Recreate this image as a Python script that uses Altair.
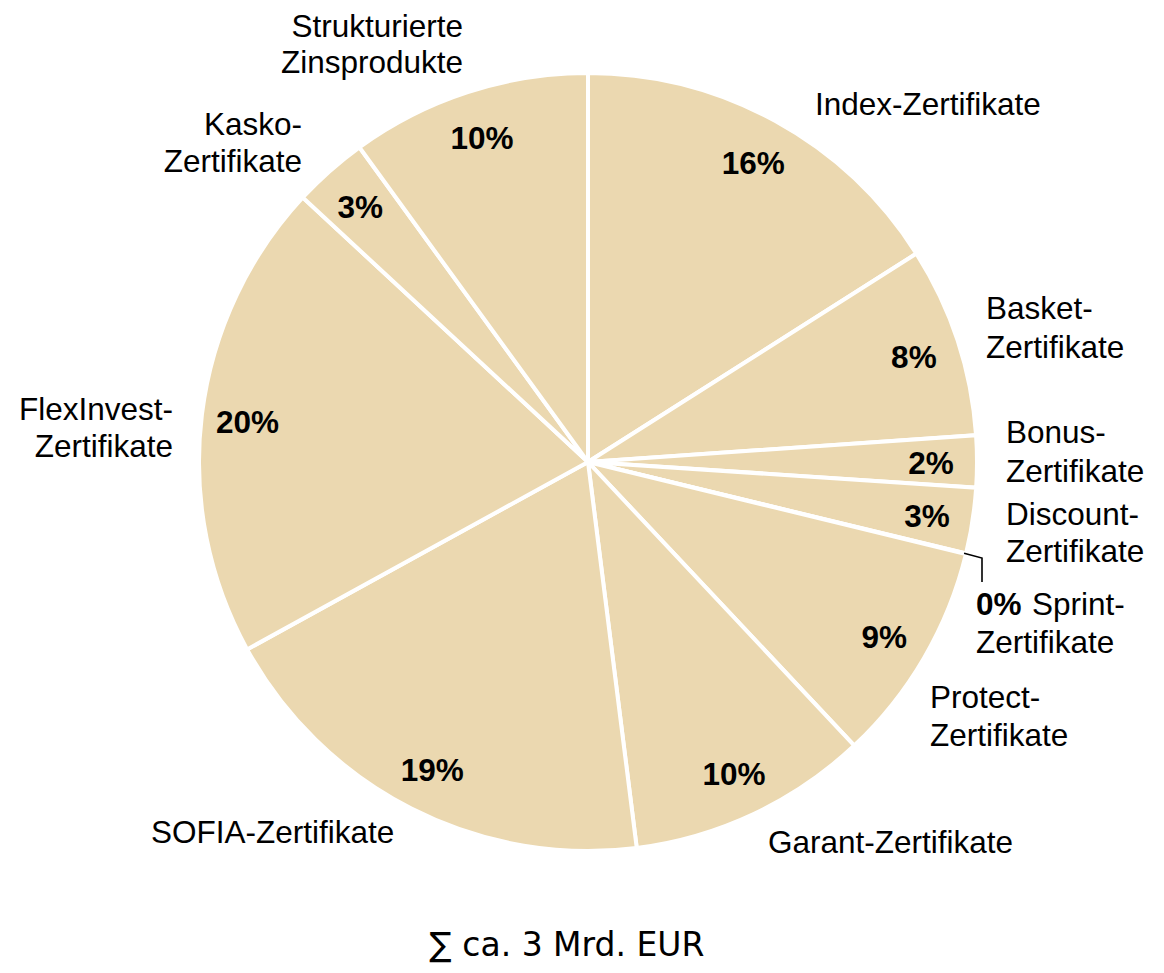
import math
import altair as alt
import pandas as pd

# ---------------- data ----------------
CATEGORIES = [
    "Index-Zertifikate", "Basket-Zertifikate", "Bonus-Zertifikate",
    "Discount-Zertifikate", "Sprint-Zertifikate", "Protect-Zertifikate",
    "Garant-Zertifikate", "SOFIA-Zertifikate", "FlexInvest-Zertifikate",
    "Kasko-Zertifikate", "Strukturierte Zinsprodukte",
]
SHARES = [16.0, 7.9, 2.15, 2.73, 0.02, 9.2, 10.0, 19.0, 19.9, 3.1, 10.0]
PCT_LABELS = ["16%", "8%", "2%", "3%", "0%", "9%", "10%", "19%", "20%", "3%", "10%"]
OUTSIDE_PCT = ["Sprint-Zertifikate"]  # percentage written outside the pie
TOTAL_TEXT = "\u2211 ca. 3 Mrd. EUR"

# ---------------- layout (pixels, chart coordinates) ----------------
W, H = 1148, 957
CX, CY = 580, 454
R = 387
STROKE = 4
PCT_RADIUS = 343
PCT_DY = 4
FONT = "Liberation Sans"
FS = 31.5
TOTAL_FONT = "DejaVu Sans"
TOTAL_FS = 33
FILL = "#EBD8B0"

# category label lines: (text, x, y-baseline, align)
LABEL_LINES = [
    ("Strukturierte", 455, 29, "right"),
    ("Zinsprodukte", 455, 65, "right"),
    ("Kasko-", 294, 127, "right"),
    ("Zertifikate", 294, 164, "right"),
    ("Index-Zertifikate", 807, 107, "left"),
    ("Basket-", 978, 311, "left"),
    ("Zertifikate", 978, 350, "left"),
    ("Bonus-", 998, 435, "left"),
    ("Zertifikate", 998, 474, "left"),
    ("Discount-", 998, 517, "left"),
    ("Zertifikate", 998, 554, "left"),
    ("Sprint-", 1024, 607, "left"),
    ("Zertifikate", 968, 645, "left"),
    ("Protect-", 922, 700, "left"),
    ("Zertifikate", 922, 738, "left"),
    ("Garant-Zertifikate", 760, 845, "left"),
    ("SOFIA-Zertifikate", 143, 835, "left"),
    ("FlexInvest-", 165, 412, "right"),
    ("Zertifikate", 165, 449, "right"),
]
OUTSIDE_PCT_POS = (968, 607)
LEADER_ELBOW = (974, 550)
LEADER_END = (974, 574)
TOTAL_POS = (559, 948)

# ---------------- tables ----------------
df = pd.DataFrame({
    "idx": list(range(len(CATEGORIES))),
    "category": CATEGORIES,
    "share": SHARES,
    "pct": PCT_LABELS,
})
df["pct_in"] = [("" if c in OUTSIDE_PCT else p) for c, p in zip(CATEGORIES, PCT_LABELS)]

# leader line start: pie edge at the middle angle of the Sprint slice
total = sum(SHARES)
i_s = CATEGORIES.index("Sprint-Zertifikate")
mid = (sum(SHARES[:i_s]) + SHARES[i_s] / 2) / total * 2 * math.pi
start = (CX + R * math.sin(mid), CY - R * math.cos(mid))
leader = pd.DataFrame({
    "o": [0, 1, 2],
    "x": [start[0], LEADER_ELBOW[0], LEADER_END[0]],
    "y": [start[1], LEADER_ELBOW[1], LEADER_END[1]],
})

labels = pd.DataFrame(LABEL_LINES, columns=["text", "x", "y", "align"])

# ---------------- chart ----------------
base = alt.Chart(df).encode(
    theta=alt.Theta("share:Q", stack=True),
    order=alt.Order("idx:Q"),
    x=alt.value(CX),
    y=alt.value(CY),
)

arcs = base.mark_arc(outerRadius=R + STROKE / 2, stroke="white",
                     strokeWidth=STROKE, fill=FILL)

pct_text = base.mark_text(radius=PCT_RADIUS, dy=PCT_DY, font=FONT, fontSize=FS,
                          fontWeight="bold", baseline="middle", align="center",
                          color="black").encode(text="pct_in:N")

def label_layer(align):
    return alt.Chart(labels[labels["align"] == align]).mark_text(
        font=FONT, fontSize=FS, align=align, baseline="alphabetic", color="black"
    ).encode(
        x=alt.X("x:Q", scale=None, axis=None),
        y=alt.Y("y:Q", scale=None, axis=None),
        text="text:N",
    )

out_pct = alt.Chart(df[df["category"].isin(OUTSIDE_PCT)]).mark_text(
    font=FONT, fontSize=FS, fontWeight="bold", align="left",
    baseline="alphabetic", color="black"
).encode(
    x=alt.value(OUTSIDE_PCT_POS[0]),
    y=alt.value(OUTSIDE_PCT_POS[1]),
    text="pct:N",
)

leader_line = alt.Chart(leader).mark_line(color="black", strokeWidth=1.6).encode(
    x=alt.X("x:Q", scale=None, axis=None),
    y=alt.Y("y:Q", scale=None, axis=None),
    order="o:Q",
)

total_text = alt.Chart(pd.DataFrame({"t": [TOTAL_TEXT]})).mark_text(
    font=TOTAL_FONT, fontSize=TOTAL_FS, align="center", baseline="alphabetic",
    color="black"
).encode(
    x=alt.value(TOTAL_POS[0]),
    y=alt.value(TOTAL_POS[1]),
    text="t:N",
)

chart = alt.layer(
    arcs, pct_text, label_layer("left"), label_layer("right"),
    out_pct, leader_line, total_text,
).properties(
    width=W, height=H,
    autosize=alt.AutoSizeParams(type="none"),
    padding=0,
    background="white",
).configure_view(stroke=None)

chart.save("out.html", embed_options={"renderer": "svg", "actions": False})
